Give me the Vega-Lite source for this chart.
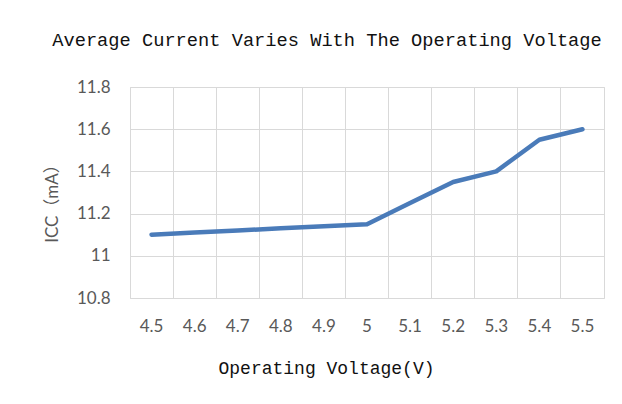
{
  "$schema": "https://vega.github.io/schema/vega-lite/v6.json",
  "width": 474,
  "height": 211,
  "autosize": "none",
  "padding": {"left": 130, "top": 87, "right": 18, "bottom": 106},
  "background": "white",
  "title": {
    "text": "Average Current Varies With The Operating Voltage",
    "font": "Liberation Mono",
    "fontSize": 18.7,
    "fontWeight": "normal",
    "color": "#111111",
    "anchor": "middle",
    "frame": "group",
    "dx": -40,
    "baseline": "alphabetic",
    "offset": 13
  },
  "config": {
    "view": {"stroke": "#D9D9D9", "strokeWidth": 1},
    "axis": {
      "labelFont": "Lato",
      "labelFontSize": 17,
      "labelColor": "#595959",
      "gridColor": "#D9D9D9",
      "gridWidth": 1,
      "ticks": false,
      "domain": false
    }
  },
  "data": {
    "values": [
      {"voltage": 4.5, "icc": 11.10},
      {"voltage": 4.6, "icc": 11.11},
      {"voltage": 4.7, "icc": 11.12},
      {"voltage": 4.8, "icc": 11.13},
      {"voltage": 4.9, "icc": 11.14},
      {"voltage": 5.0, "icc": 11.15},
      {"voltage": 5.1, "icc": 11.25},
      {"voltage": 5.2, "icc": 11.35},
      {"voltage": 5.3, "icc": 11.40},
      {"voltage": 5.4, "icc": 11.55},
      {"voltage": 5.5, "icc": 11.60}
    ]
  },
  "mark": {"type": "line", "color": "#4A7BB9", "strokeWidth": 4.5, "strokeCap": "round", "strokeJoin": "round"},
  "encoding": {
    "x": {
      "field": "voltage",
      "type": "ordinal",
      "bandPosition": 0.5,
      "scale": {"type": "band", "paddingInner": 0, "paddingOuter": 0},
      "axis": {
        "title": "Operating Voltage(V)",
        "titleFont": "Liberation Mono",
        "titleFontSize": 18,
        "titleFontWeight": "normal",
        "titleColor": "#111111",
        "titleX": 196,
        "titleY": 75,
        "titleBaseline": "alphabetic",
        "titleAlign": "center",
        "grid": true,
        "bandPosition": 0,
        "labelAngle": 0,
        "labelPadding": 20,
        "labelFlush": false,
        "labelOverlap": false,
        "labelExpr": "'' + datum.value"
      }
    },
    "y": {
      "field": "icc",
      "type": "quantitative",
      "scale": {"domain": [10.8, 11.8], "nice": false, "zero": false},
      "axis": {
        "title": "ICC（mA）",
        "titleFont": "Lato, 'Noto Sans CJK SC'",
        "titleFontSize": 17,
        "titleFontWeight": "normal",
        "titleColor": "#595959",
        "titleX": -78,
        "titleY": 112,
        "titleAngle": -90,
        "titleAlign": "center",
        "titleBaseline": "middle",
        "values": [10.8, 11, 11.2, 11.4, 11.6, 11.8],
        "labelExpr": "'' + datum.value",
        "labelPadding": 20,
        "grid": true
      }
    }
  }
}
